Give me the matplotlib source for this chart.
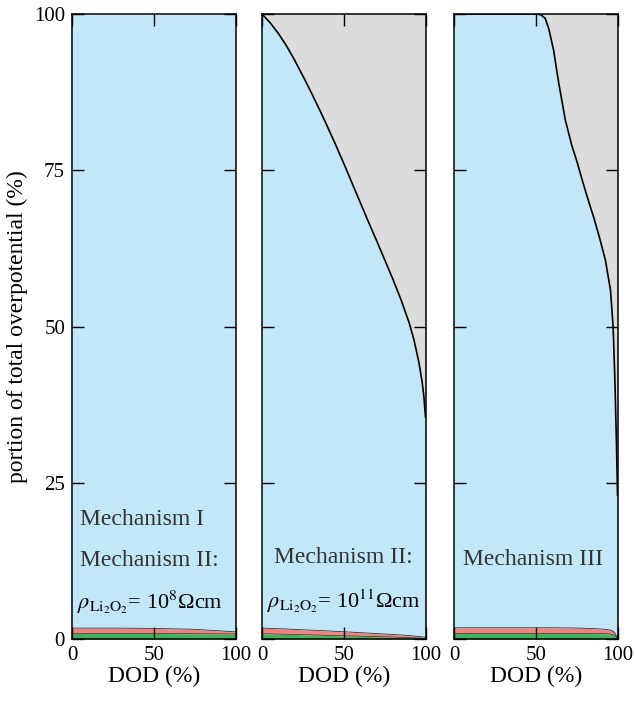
import numpy as np
import matplotlib
matplotlib.use("Agg")
import matplotlib.pyplot as plt

plt.rcParams['font.family'] = ['Liberation Serif', 'DejaVu Serif']
plt.rcParams['mathtext.fontset'] = 'stix'

# Panel 1: Mechanism I / II (rho = 1e8)
dod1 = [0, 25, 50, 75, 100]
green1 = [0.9, 0.9, 0.9, 0.85, 0.8]
red1 = [1.75, 1.75, 1.7, 1.55, 1.15]
blue1 = [100, 100, 100, 100, 100]

# Panel 2: Mechanism II (rho = 1e11)
dod2 = [0, 5, 10, 15, 20, 25, 30, 35, 40, 45, 50, 55, 60, 65, 70, 75,
        80, 85, 90, 93, 96, 98, 99, 100]
green2 = [0.85, 0.82, 0.79, 0.76, 0.73, 0.7, 0.66, 0.63, 0.59, 0.56, 0.52, 0.49, 0.45,
          0.42, 0.38, 0.35, 0.31, 0.27, 0.22, 0.19, 0.15, 0.12, 0.1, 0.1]
red2 = [1.75, 1.7, 1.65, 1.6, 1.54, 1.48, 1.42, 1.36, 1.3, 1.23, 1.16, 1.09, 1.02,
        0.95, 0.87, 0.8, 0.72, 0.64, 0.55, 0.48, 0.41, 0.35, 0.32, 0.3]
blue2 = [100, 98.6, 96.9, 94.9, 92.6, 90.1, 87.5, 84.8, 82.0, 79.1, 76.1, 73.0, 69.9,
         66.8, 63.8, 60.7, 57.6, 54.3, 50.6, 47.8, 44.2, 41.0, 38.8, 35.5]

# Panel 3: Mechanism III
dod3 = [0, 50.3, 53, 55.8, 58, 60.9, 64, 68.1, 72, 75.3, 78, 81.4, 85.5, 89, 92.6,
        95.7, 97.3, 98.4, 99.4, 99.8, 100]
green3 = [0.9, 0.9, 0.9, 0.9, 0.9, 0.9, 0.9, 0.9, 0.9, 0.9, 0.9, 0.89, 0.88, 0.87, 0.85,
          0.8, 0.7, 0.55, 0.3, 0.1, 0.0]
red3 = [1.8, 1.8, 1.8, 1.8, 1.8, 1.8, 1.79, 1.78, 1.77, 1.75, 1.74, 1.7, 1.66, 1.61, 1.55,
        1.42, 1.25, 0.95, 0.5, 0.2, 0.0]
blue3 = [100, 100, 99.9, 99.3, 97.6, 94.2, 89.0, 83.0, 79.0, 76.3, 73.8, 70.8, 67.4, 64.2,
         60.6, 55.8, 50.0, 41.3, 30.7, 25.5, 23.0]

c_green = '#3fb35a'
c_red = '#f0837f'
c_blue = '#c2e7f9'
c_gray = '#dcdcdc'

fig = plt.figure(figsize=(6.35, 7.02), dpi=100)
bottom, height = 0.0897, 0.8903
lefts = [0.1134, 0.4126, 0.7150]
width = 0.2575

panels = [(dod1, green1, red1, blue1), (dod2, green2, red2, blue2), (dod3, green3, red3, blue3)]
axes = []
for i, (x, g, r, b) in enumerate(panels):
    ax = fig.add_axes([lefts[i], bottom, width, height])
    x = np.array(x)
    ax.fill_between(x, 0, g, color=c_green, lw=0)
    ax.fill_between(x, g, r, color=c_red, lw=0)
    ax.fill_between(x, r, b, color=c_blue, lw=0)
    ax.fill_between(x, b, 100, color=c_gray, lw=0)
    ax.plot(x, g, color='#333333', lw=0.5)
    ax.plot(x, r, color='#333333', lw=0.6)
    if i > 0:
        ax.plot(x, b, color='black', lw=1.2)
    ax.set_xlim(0, 100)
    ax.set_ylim(0, 100)
    ax.set_xticks([0, 50, 100])
    ax.set_yticks([0, 25, 50, 75, 100])
    ax.tick_params(direction='in', length=8.5, width=1, top=True, right=True,
                   labelsize=15, pad=5)
    if i > 0:
        ax.tick_params(labelleft=False)
    for s in ax.spines.values():
        s.set_linewidth(1.1)
    ax.set_xlabel('DOD (%)', fontsize=17, labelpad=1)
    axes.append(ax)

axes[0].set_ylabel('portion of total overpotential (%)', fontsize=17, labelpad=4)

tc = '#333333'
rho = r'$\rho_{\mathrm{Li_2O_2}}$'
axes[0].text(5, 19.1, 'Mechanism I', fontsize=17, color=tc, va='center', ha='left')
axes[0].text(5, 12.5, 'Mechanism II:', fontsize=17, color=tc, va='center', ha='left')
axes[0].text(3, 5.8, rho + r'= 10$^8$Ωcm', fontsize=16, color='black', va='center', ha='left')
axes[1].text(50, 13, 'Mechanism II:', fontsize=17, color=tc, va='center', ha='center')
axes[1].text(50, 6.1, rho + r'= 10$^{11}$Ωcm', fontsize=16, color='black', va='center', ha='center')
axes[2].text(48.5, 12.8, 'Mechanism III', fontsize=17, color=tc, va='center', ha='center')

fig.savefig('out.png', dpi=100)
